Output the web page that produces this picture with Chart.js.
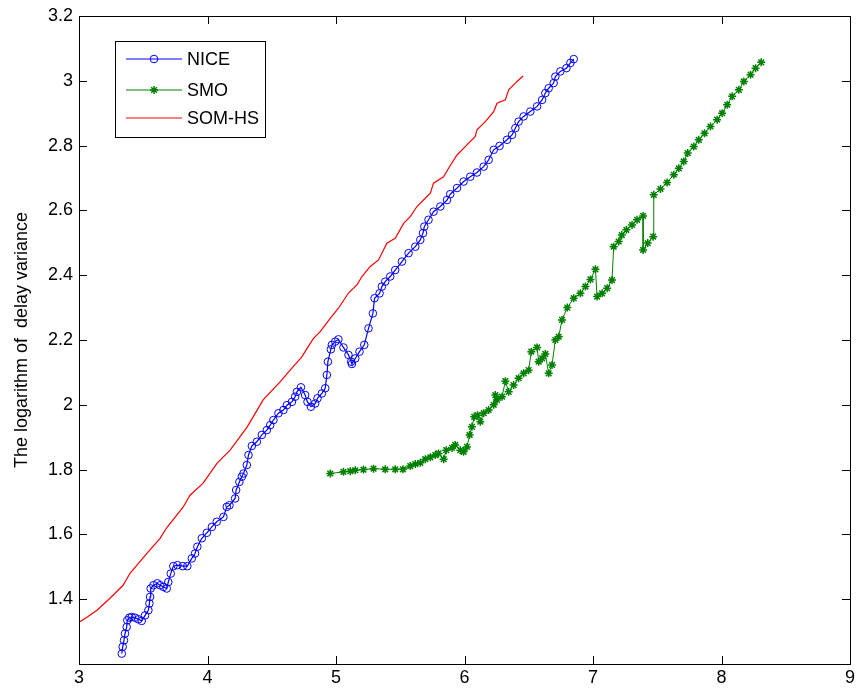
<!DOCTYPE html>
<html>
<head>
<meta charset="utf-8">
<script src="https://cdn.jsdelivr.net/npm/chart.js@4.4.0/dist/chart.umd.min.js"></script>
<style>
  html, body { margin: 0; padding: 0; background: #fff; }
  #wrap { width: 856px; height: 693px; }
</style>
</head>
<body>
<div id="wrap"><canvas id="delayChart" width="856" height="693"></canvas></div>
<script>
// NICE (blue circles)
const niceX = [3.333, 3.340, 3.350, 3.358, 3.371, 3.376, 3.392, 3.410, 3.436, 3.462, 3.488, 3.514, 3.540, 3.548, 3.553, 3.558,
    3.579, 3.610, 3.631, 3.657, 3.683, 3.695, 3.714, 3.734, 3.766, 3.808, 3.843, 3.878, 3.903, 3.921, 3.956, 3.995,
    4.034, 4.072, 4.124, 4.150, 4.171, 4.215, 4.223, 4.248, 4.267, 4.280, 4.306, 4.319, 4.345, 4.384, 4.423, 4.462,
    4.488, 4.513, 4.552, 4.591, 4.618, 4.657, 4.682, 4.696, 4.727, 4.760, 4.778, 4.805, 4.838, 4.856, 4.890, 4.916,
    4.929, 4.937, 4.960, 4.968, 4.994, 5.019, 5.058, 5.097, 5.118, 5.124, 5.150, 5.183, 5.220, 5.253, 5.287, 5.300,
    5.339, 5.357, 5.383, 5.422, 5.461, 5.513, 5.565, 5.617, 5.656, 5.677, 5.687, 5.720, 5.759, 5.812, 5.864, 5.889,
    5.942, 5.993, 6.045, 6.097, 6.149, 6.188, 6.227, 6.273, 6.331, 6.370, 6.396, 6.421, 6.460, 6.512, 6.565, 6.604,
    6.629, 6.655, 6.694, 6.707, 6.746, 6.793, 6.824, 6.850];
const niceY = [1.232, 1.253, 1.273, 1.294, 1.314, 1.335, 1.343, 1.345, 1.343, 1.338, 1.333, 1.350, 1.366, 1.387, 1.407, 1.433,
    1.443, 1.449, 1.443, 1.438, 1.433, 1.453, 1.479, 1.502, 1.505, 1.502, 1.502, 1.526, 1.541, 1.562, 1.588, 1.605,
    1.623, 1.639, 1.654, 1.685, 1.690, 1.711, 1.737, 1.762, 1.778, 1.788, 1.814, 1.845, 1.873, 1.886, 1.907, 1.922,
    1.937, 1.953, 1.974, 1.984, 1.999, 2.009, 2.025, 2.040, 2.054, 2.030, 2.009, 1.994, 2.004, 2.020, 2.035, 2.051,
    2.092, 2.133, 2.171, 2.185, 2.195, 2.202, 2.177, 2.154, 2.133, 2.126, 2.143, 2.164, 2.185, 2.236, 2.282, 2.329,
    2.344, 2.365, 2.380, 2.396, 2.416, 2.442, 2.468, 2.488, 2.509, 2.530, 2.550, 2.571, 2.596, 2.612, 2.632, 2.650,
    2.669, 2.689, 2.704, 2.717, 2.735, 2.756, 2.787, 2.799, 2.818, 2.833, 2.854, 2.874, 2.890, 2.905, 2.921, 2.941,
    2.962, 2.977, 2.993, 3.013, 3.029, 3.039, 3.055, 3.067];

// SMO (green stars)
const smoX = [4.955, 5.058, 5.111, 5.150, 5.214, 5.292, 5.383, 5.461, 5.521, 5.578, 5.617, 5.656, 5.695, 5.734, 5.773, 5.798,
    5.838, 5.858, 5.903, 5.928, 5.967, 5.993, 6.019, 6.040, 6.058, 6.076, 6.102, 6.123, 6.149, 6.188, 6.227, 6.240,
    6.253, 6.292, 6.318, 6.344, 6.382, 6.421, 6.460, 6.499, 6.520, 6.565, 6.577, 6.604, 6.629, 6.655, 6.681, 6.707,
    6.733, 6.759, 6.800, 6.850, 6.902, 6.941, 6.980, 7.019, 7.032, 7.071, 7.110, 7.148, 7.161, 7.200, 7.224, 7.260,
    7.304, 7.343, 7.390, 7.390, 7.426, 7.468, 7.473, 7.525, 7.577, 7.629, 7.668, 7.706, 7.737, 7.784, 7.823, 7.868,
    7.914, 7.966, 8.005, 8.044, 8.083, 8.135, 8.174, 8.226, 8.265, 8.309];
const smoY = [1.788, 1.793, 1.795, 1.798, 1.800, 1.803, 1.801, 1.801, 1.801, 1.811, 1.817, 1.821, 1.832, 1.838, 1.845, 1.850,
    1.832, 1.860, 1.867, 1.876, 1.860, 1.855, 1.870, 1.907, 1.932, 1.963, 1.968, 1.948, 1.974, 1.984, 2.000, 2.030,
    2.015, 2.025, 2.073, 2.040, 2.061, 2.082, 2.097, 2.107, 2.164, 2.177, 2.133, 2.143, 2.157, 2.097, 2.123, 2.200,
    2.210, 2.262, 2.300, 2.329, 2.344, 2.365, 2.387, 2.418, 2.334, 2.344, 2.360, 2.385, 2.488, 2.504, 2.524, 2.540,
    2.555, 2.571, 2.583, 2.478, 2.499, 2.519, 2.648, 2.666, 2.686, 2.710, 2.730, 2.751, 2.777, 2.797, 2.818, 2.838,
    2.859, 2.880, 2.900, 2.926, 2.952, 2.972, 2.998, 3.019, 3.039, 3.057];

// SOM-HS (red line)
const somX = [3.000, 3.062, 3.140, 3.241, 3.343, 3.397, 3.530, 3.631, 3.685, 3.810, 3.864, 3.966, 4.075, 4.176, 4.308, 4.433,
    4.565, 4.643, 4.734, 4.786, 4.825, 4.877, 4.955, 5.019, 5.097, 5.163, 5.202, 5.266, 5.331, 5.396, 5.461, 5.526,
    5.578, 5.630, 5.681, 5.734, 5.759, 5.837, 5.876, 5.942, 6.019, 6.084, 6.097, 6.162, 6.227, 6.253, 6.318, 6.344,
    6.409, 6.456];
const somY = [1.329, 1.344, 1.366, 1.403, 1.443, 1.480, 1.542, 1.588, 1.622, 1.684, 1.721, 1.758, 1.820, 1.860, 1.931, 2.015,
    2.071, 2.107, 2.148, 2.181, 2.205, 2.226, 2.267, 2.298, 2.345, 2.370, 2.396, 2.427, 2.447, 2.499, 2.514, 2.560,
    2.581, 2.612, 2.632, 2.653, 2.684, 2.704, 2.730, 2.771, 2.802, 2.828, 2.849, 2.874, 2.905, 2.931, 2.941, 2.972,
    2.998, 3.015];

const xTicks = [3, 4, 5, 6, 7, 8, 9];
const yTicks = [1.4, 1.6, 1.8, 2.0, 2.2, 2.4, 2.6, 2.8, 3.0, 3.2];
const seriesNames = ['NICE', 'SMO', 'SOM-HS'];

const FONT = "'Liberation Sans', Arial, sans-serif";
const toPoints = (xs, ys) => xs.map((x, i) => ({ x: x, y: ys[i] }));

// axes box with inward ticks on all four sides
const boxTicks = {
    id: 'boxTicks',
    afterDraw(chart) {
        const { ctx, chartArea: a, scales } = chart;
        const len = 8;
        ctx.save();
        ctx.strokeStyle = '#000';
        ctx.lineWidth = 1;
        ctx.beginPath();
        xTicks.forEach(v => {
            const px = Math.round(scales.x.getPixelForValue(v)) + 0.5;
            ctx.moveTo(px, a.bottom); ctx.lineTo(px, a.bottom - len);
            ctx.moveTo(px, a.top); ctx.lineTo(px, a.top + len);
        });
        yTicks.forEach(v => {
            const py = Math.round(scales.y.getPixelForValue(v)) + 0.5;
            ctx.moveTo(a.left, py); ctx.lineTo(a.left + len, py);
            ctx.moveTo(a.right, py); ctx.lineTo(a.right - len, py);
        });
        ctx.stroke();
        ctx.strokeRect(Math.round(a.left) + 0.5, Math.round(a.top) + 0.5,
            Math.round(a.right - a.left), Math.round(a.bottom - a.top));
        ctx.restore();
    }
};

// legend box in the upper left of the axes
const boxLegend = {
    id: 'boxLegend',
    afterDraw(chart) {
        const ctx = chart.ctx;
        const a = chart.chartArea;
        const bx = a.left + 36, by = a.top + 25, bw = 150, bh = 96;
        ctx.save();
        ctx.fillStyle = '#fff';
        ctx.fillRect(bx, by, bw, bh);
        ctx.strokeStyle = '#000';
        ctx.lineWidth = 1;
        ctx.strokeRect(bx + 0.5, by + 0.5, bw, bh);
        const rows = [by + 18, by + 49, by + 77];
        chart.data.datasets.forEach((ds, i) => {
            const y = rows[i];
            ctx.strokeStyle = ds.borderColor;
            ctx.lineWidth = ds.borderWidth;
            ctx.beginPath();
            ctx.moveTo(bx + 11, y);
            ctx.lineTo(bx + 67, y);
            ctx.stroke();
            if (ds.pointRadius > 0 && Chart.helpers && Chart.helpers.drawPoint) {
                ctx.strokeStyle = ds.pointBorderColor;
                ctx.fillStyle = ds.pointBackgroundColor;
                ctx.lineWidth = ds.pointBorderWidth;
                Chart.helpers.drawPoint(ctx, {
                    pointStyle: ds.pointStyle,
                    radius: ds.pointRadius,
                    borderWidth: ds.pointBorderWidth,
                    rotation: 0
                }, bx + 39, y);
            }
            ctx.fillStyle = '#000';
            ctx.font = '18px ' + FONT;
            ctx.textBaseline = 'middle';
            ctx.textAlign = 'left';
            ctx.fillText(ds.label, bx + 72, y + 1);
        });
        ctx.restore();
    }
};

const ctx = document.getElementById('delayChart').getContext('2d');
new Chart(ctx, {
    type: 'scatter',
    data: {
        datasets: [
            {
                label: seriesNames[0],
                data: toPoints(niceX, niceY),
                showLine: true,
                borderColor: '#0000ff',
                borderWidth: 1.2,
                pointStyle: 'circle',
                pointRadius: 3.8,
                pointBorderWidth: 1,
                pointBorderColor: '#0000ff',
                pointBackgroundColor: 'rgba(0,0,0,0)'
            },
            {
                label: seriesNames[1],
                data: toPoints(smoX, smoY),
                showLine: true,
                borderColor: '#008000',
                borderWidth: 1,
                pointStyle: 'star',
                pointRadius: 4,
                pointBorderWidth: 1.5,
                pointBorderColor: '#008000',
                pointBackgroundColor: '#008000'
            },
            {
                label: seriesNames[2],
                data: toPoints(somX, somY),
                showLine: true,
                borderColor: '#ff0000',
                borderWidth: 1.2,
                pointRadius: 0
            }
        ]
    },
    options: {
        responsive: false,
        animation: false,
        events: [],
        layout: { padding: { top: 16, right: 6, left: 0, bottom: 0 } },
        plugins: {
            legend: { display: false },
            tooltip: { enabled: false }
        },
        scales: {
            x: {
                type: 'linear',
                min: 3,
                max: 9,
                grid: { display: false, drawTicks: false },
                border: { display: false },
                afterBuildTicks: scale => { scale.ticks = xTicks.map(v => ({ value: v })); },
                afterFit: scale => {
                    scale.height = 29;
                    scale.paddingLeft = 0;
                    scale.paddingRight = 0;
                },
                ticks: {
                    autoSkip: false,
                    maxRotation: 0,
                    padding: 3,
                    color: '#000',
                    font: { family: FONT, size: 18 },
                    callback: v => String(v)
                }
            },
            y: {
                type: 'linear',
                min: 1.2,
                max: 3.2,
                grid: { display: false, drawTicks: false },
                border: { display: false },
                afterBuildTicks: scale => { scale.ticks = yTicks.map(v => ({ value: v })); },
                afterFit: scale => {
                    scale.width = 79;
                    scale.paddingTop = 0;
                    scale.paddingBottom = 0;
                },
                ticks: {
                    autoSkip: false,
                    padding: 6,
                    color: '#000',
                    font: { family: FONT, size: 18 },
                    callback: v => String(+Number(v).toFixed(1))
                },
                title: {
                    display: true,
                    text: 'The logarithm of  delay variance',
                    color: '#000',
                    font: { family: FONT, size: 18 },
                    padding: { top: 11, bottom: 0 }
                }
            }
        }
    },
    plugins: [boxTicks, boxLegend]
});
</script>
</body>
</html>
